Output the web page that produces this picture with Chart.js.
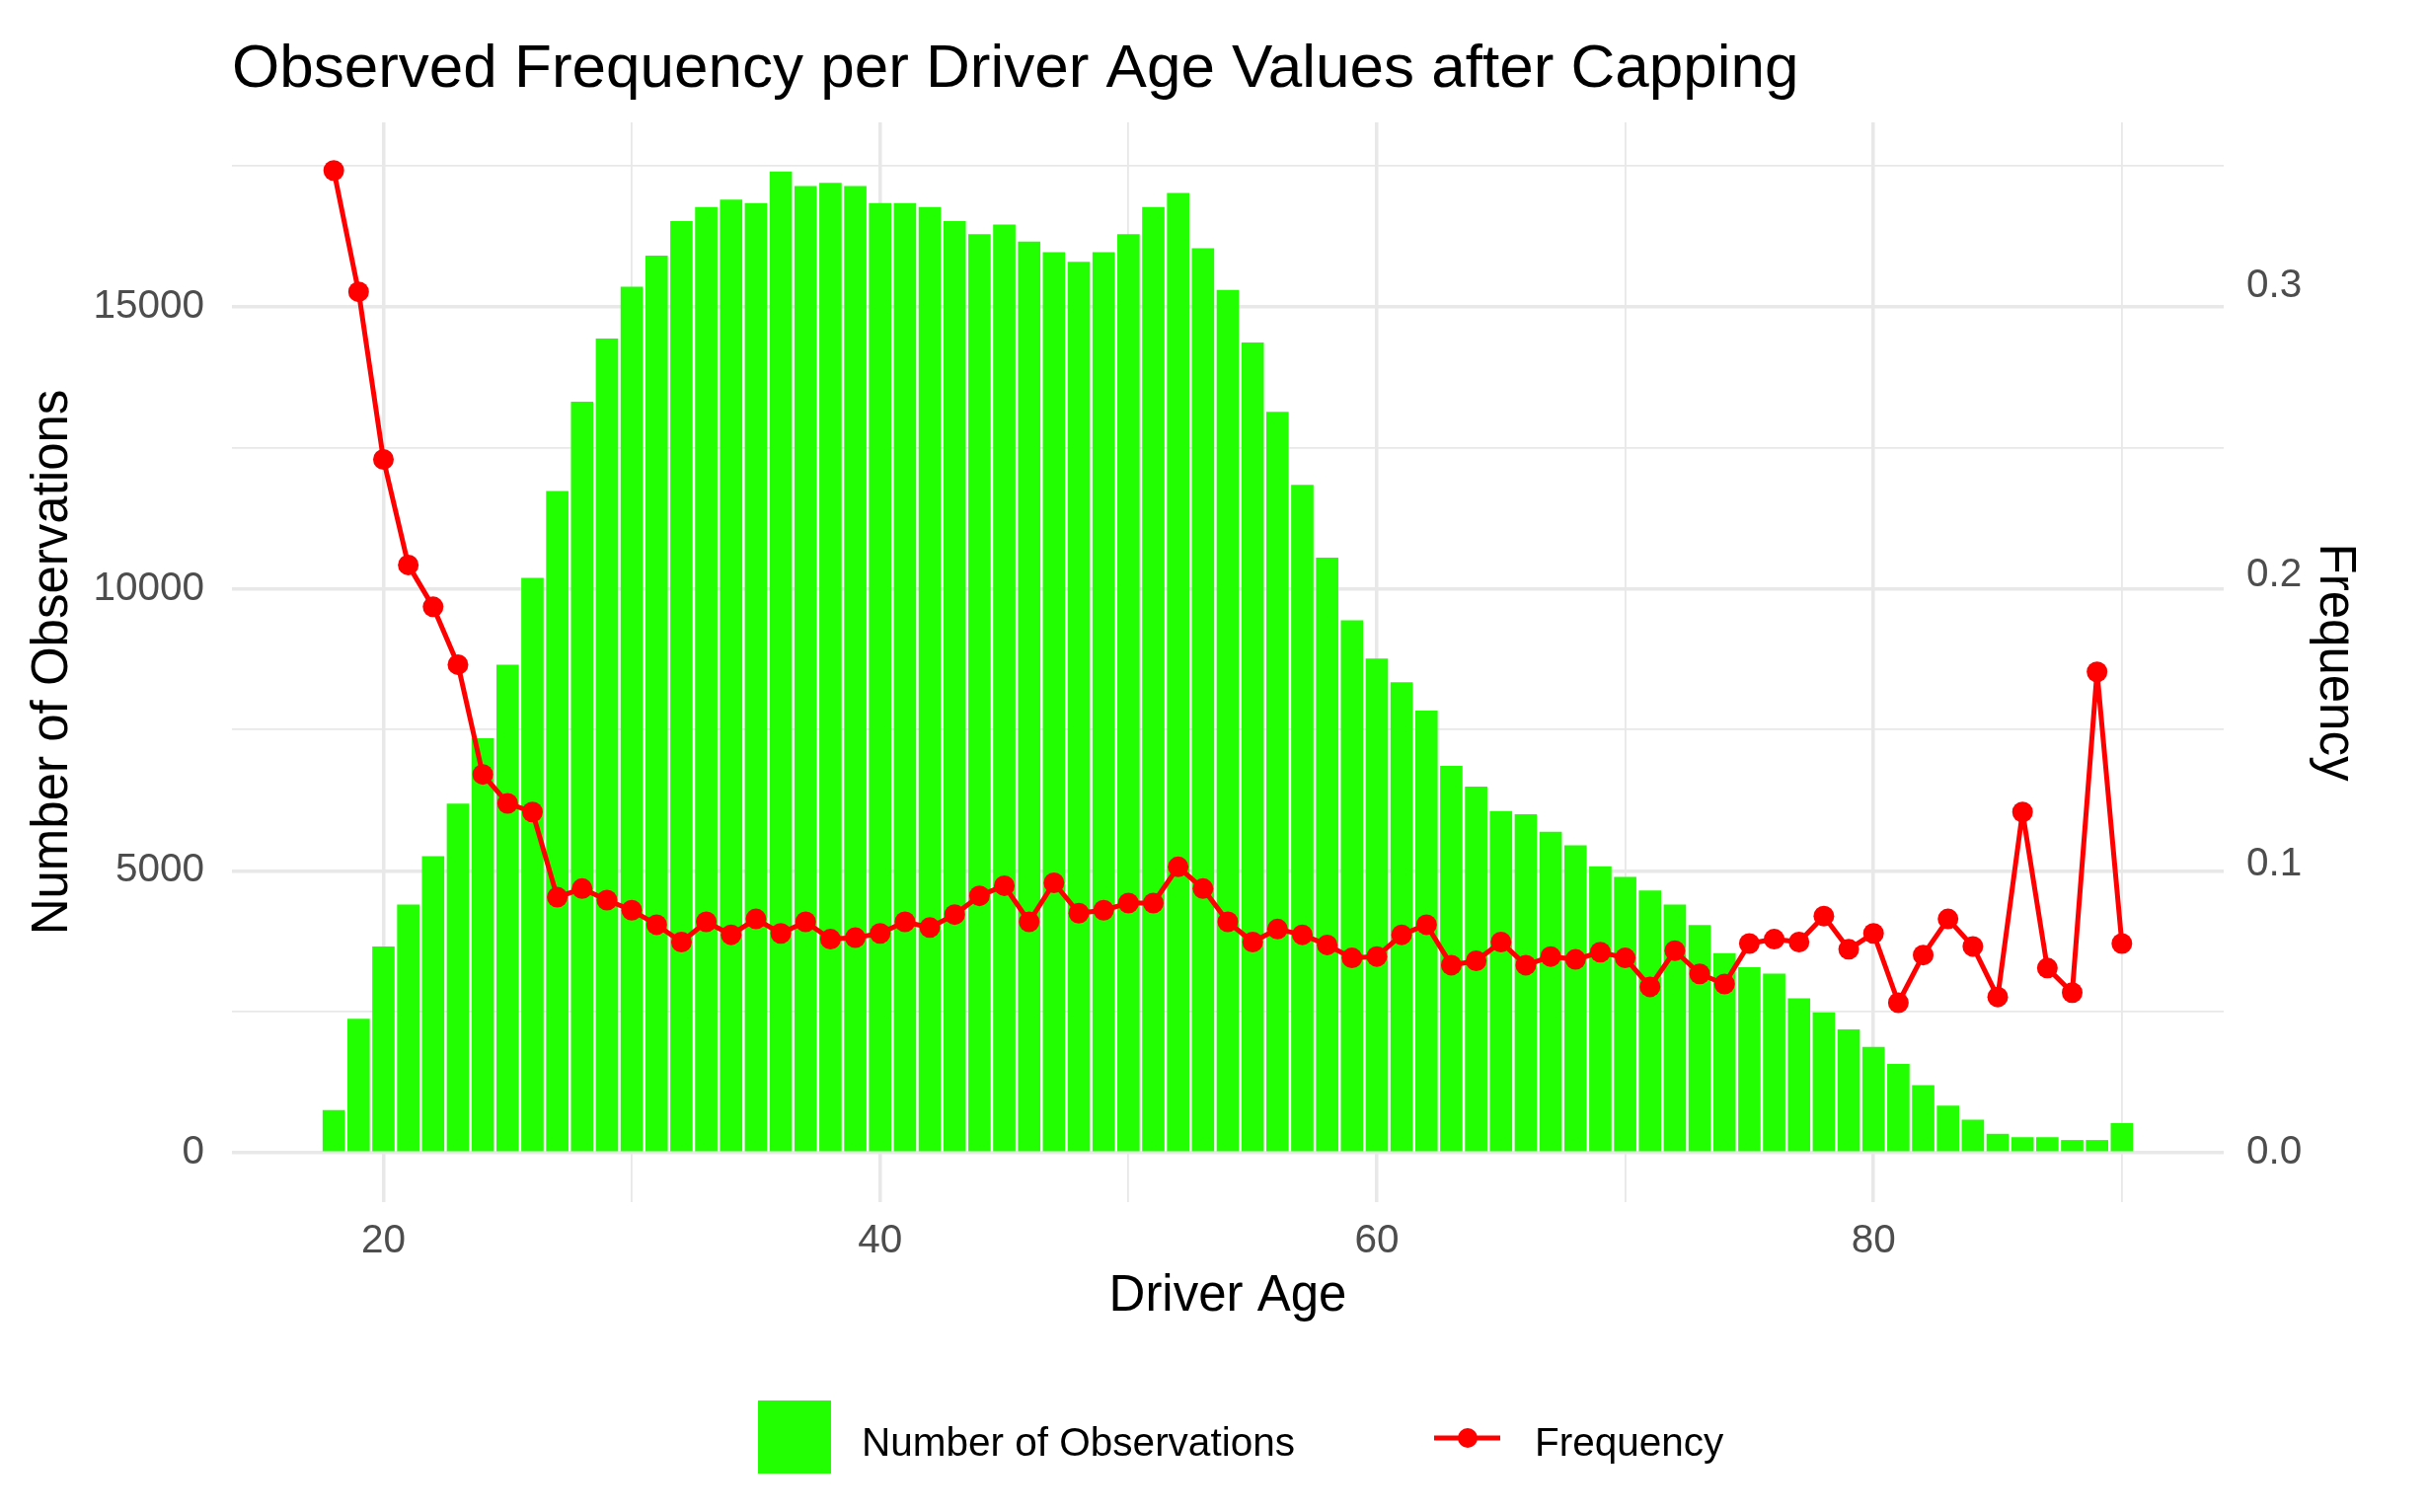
<!DOCTYPE html>
<html>
<head>
<meta charset="utf-8">
<title>Observed Frequency per Driver Age</title>
<script src="https://cdn.jsdelivr.net/npm/chart.js@4/dist/chart.umd.min.js"></script>
<style>
  html, body { margin: 0; padding: 0; background: #ffffff; }
  canvas { display: block; }
</style>
</head>
<body>
<canvas id="chart" width="2460" height="1532" style="width:2460px;height:1532px"></canvas>
<script>
// データ
const ages = [18, 19, 20, 21, 22, 23, 24, 25, 26, 27, 28, 29, 30, 31, 32, 33, 34, 35, 36, 37,
  38, 39, 40, 41, 42, 43, 44, 45, 46, 47, 48, 49, 50, 51, 52, 53, 54, 55, 56, 57,
  58, 59, 60, 61, 62, 63, 64, 65, 66, 67, 68, 69, 70, 71, 72, 73, 74, 75, 76, 77,
  78, 79, 80, 81, 82, 83, 84, 85, 86, 87, 88, 89, 90];

const observations = [760, 2380, 3660, 4400, 5260, 6190, 7350, 8650, 10190, 11730,
  13310, 14430, 15350, 15900, 16510, 16760, 16890, 16830, 17390, 17130,
  17190, 17130, 16830, 16830, 16760, 16510, 16280, 16450, 16150, 15960,
  15790, 15960, 16280, 16760, 17010, 16030, 15290, 14360, 13130, 11840,
  10550, 9440, 8760, 8340, 7840, 6860, 6490, 6060, 6000, 5690,
  5450, 5080, 4890, 4650, 4400, 4040, 3540, 3290, 3180, 2740,
  2490, 2190, 1880, 1580, 1200, 840, 590, 340, 280, 280,
  230, 230, 530];

const frequency = [0.340, 0.298, 0.240, 0.2035, 0.189, 0.169, 0.131, 0.121, 0.118, 0.0885,
  0.0915, 0.0875, 0.084, 0.079, 0.073, 0.080, 0.0755, 0.081, 0.076, 0.080,
  0.074, 0.0745, 0.076, 0.080, 0.078, 0.0825, 0.089, 0.0925, 0.080, 0.0935,
  0.083, 0.084, 0.0865, 0.0865, 0.099, 0.0915, 0.080, 0.073, 0.0775, 0.0755,
  0.072, 0.0675, 0.068, 0.0755, 0.079, 0.065, 0.0665, 0.073, 0.065, 0.068,
  0.067, 0.0695, 0.0675, 0.0575, 0.070, 0.062, 0.0585, 0.0725, 0.074, 0.073,
  0.082, 0.0705, 0.076, 0.052, 0.0685, 0.081, 0.0715, 0.054, 0.118, 0.064,
  0.0555, 0.1665, 0.0725];

const xTicks = [20, 30, 40, 50, 60, 70, 80, 90];
const yTicks = [0, 2500, 5000, 7500, 10000, 12500, 15000, 17500];
const freqTicks = [0, 0.1, 0.2, 0.3];

// 第2軸の倍率（件数 / 頻度）
const secScale = 51200;
const yMin = -870;
const yMax = 18260;

const FONT = "'Liberation Sans', Arial, Helvetica, sans-serif";
const GREEN = '#22ff00';
const RED = '#ff0000';
const GRID = '#e8e8e8';

// タイトルと凡例は ggplot 風に手描き
const decorPlugin = {
  id: 'decor',
  afterDraw(chart) {
    const ctx = chart.ctx;
    ctx.save();
    ctx.fillStyle = '#000000';
    ctx.textBaseline = 'alphabetic';
    ctx.textAlign = 'left';
    ctx.font = `62px ${FONT}`;
    ctx.fillText('Observed Frequency per Driver Age Values after Capping', chart.chartArea.left, 88);

    // 凡例
    const bar = chart.data.datasets[0];
    const line = chart.data.datasets[1];
    ctx.fillStyle = bar.backgroundColor;
    ctx.fillRect(768, 1419, 74, 74);
    ctx.font = `40.5px ${FONT}`;
    ctx.fillStyle = '#000000';
    ctx.fillText(bar.label, 873, 1475);

    ctx.strokeStyle = line.borderColor;
    ctx.lineWidth = 5;
    ctx.beginPath();
    ctx.moveTo(1453, 1457);
    ctx.lineTo(1520, 1457);
    ctx.stroke();
    ctx.fillStyle = line.pointBackgroundColor;
    ctx.beginPath();
    ctx.arc(1487, 1457, 10, 0, Math.PI * 2);
    ctx.fill();
    ctx.fillStyle = '#000000';
    ctx.fillText(line.label, 1555, 1475);
    ctx.restore();
  }
};

const setTicks = (values) => (scale) => {
  scale.ticks = values.map(v => ({ value: v }));
};

new Chart(document.getElementById('chart'), {
  type: 'bar',
  data: {
    datasets: [
      {
        type: 'bar',
        label: 'Number of Observations',
        data: ages.map((a, i) => ({ x: a, y: observations[i] })),
        backgroundColor: GREEN,
        borderWidth: 0,
        barPercentage: 0.9,
        categoryPercentage: 1.0,
        yAxisID: 'y',
        order: 2
      },
      {
        type: 'line',
        label: 'Frequency',
        data: ages.map((a, i) => ({ x: a, y: frequency[i] })),
        borderColor: RED,
        backgroundColor: RED,
        pointBackgroundColor: RED,
        pointBorderWidth: 0,
        pointRadius: 10.5,
        borderWidth: 5,
        borderJoinStyle: 'round',
        tension: 0,
        yAxisID: 'y1',
        order: 1
      }
    ]
  },
  options: {
    responsive: false,
    animation: false,
    devicePixelRatio: 1,
    layout: { padding: { top: 124, left: 0, right: 0, bottom: 0 } },
    plugins: {
      legend: { display: false },
      title: { display: false },
      tooltip: { enabled: false }
    },
    scales: {
      x: {
        type: 'linear',
        min: 13.9,
        max: 94.1,
        offset: false,
        afterBuildTicks: setTicks(xTicks),
        afterFit: (scale) => { scale.height = 314; },
        grid: {
          offset: false,
          color: GRID,
          lineWidth: (c) => (c.tick && c.tick.value % 20 === 0 ? 3.5 : 1.8),
          drawTicks: false
        },
        border: { display: false },
        ticks: {
          padding: 16,
          color: '#4d4d4d',
          font: { family: FONT, size: 40.5 },
          maxRotation: 0,
          callback: (v) => (v % 20 === 0 ? String(v) : '')
        },
        title: {
          display: true,
          text: 'Driver Age',
          color: '#000000',
          font: { family: FONT, size: 51 },
          padding: { top: 0, bottom: 187 }
        }
      },
      y: {
        position: 'left',
        min: yMin,
        max: yMax,
        afterBuildTicks: setTicks(yTicks),
        afterFit: (scale) => { scale.width = 235; },
        grid: {
          color: GRID,
          lineWidth: (c) => (c.tick && c.tick.value % 5000 === 0 ? 3.5 : 1.8),
          drawTicks: false
        },
        border: { display: false },
        ticks: {
          padding: 28,
          color: '#4d4d4d',
          font: { family: FONT, size: 40.5 },
          callback: (v) => (v % 5000 === 0 ? String(v) : '')
        },
        title: {
          display: true,
          text: 'Number of Observations',
          color: '#000000',
          font: { family: FONT, size: 51 },
          padding: { top: 23, bottom: 0 }
        }
      },
      y1: {
        position: 'right',
        min: yMin / secScale,
        max: yMax / secScale,
        afterBuildTicks: setTicks(freqTicks),
        afterFit: (scale) => { scale.width = 207; },
        grid: { display: false, drawTicks: false },
        border: { display: false },
        ticks: {
          padding: 23,
          color: '#4d4d4d',
          font: { family: FONT, size: 40.5 },
          callback: (v) => v.toFixed(1)
        },
        title: {
          display: true,
          text: 'Frequency',
          color: '#000000',
          font: { family: FONT, size: 51 },
          padding: { top: 64, bottom: 0 }
        }
      }
    }
  },
  plugins: [decorPlugin]
});
</script>
</body>
</html>
